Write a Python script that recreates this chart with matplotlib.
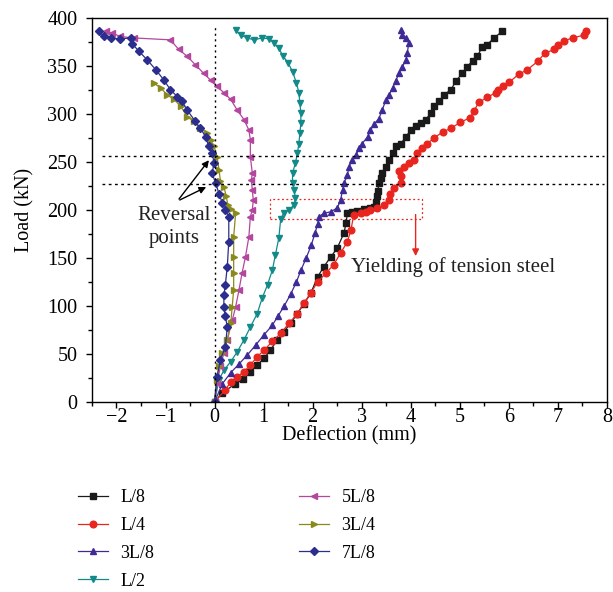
import matplotlib
matplotlib.use("Agg")
import matplotlib.pyplot as plt
from matplotlib.patches import Rectangle

plt.rcParams["font.family"] = ["Liberation Serif", "DejaVu Serif"]

# load-deflection data (deflection mm, load kN)
l8_x = [0, 0.15, 0.42, 0.59, 0.73, 0.87, 1.01, 1.14, 1.28, 1.41, 1.55, 1.69, 1.82, 1.96, 2.10, 2.23, 2.37, 2.50,
        2.64, 2.68, 2.71, 2.80, 2.91, 3.05, 3.18, 3.25, 3.30, 3.32, 3.33, 3.35, 3.39, 3.42, 3.49, 3.56, 3.63, 3.69,
        3.80, 3.90, 4.00, 4.10, 4.20, 4.31, 4.41, 4.48, 4.58, 4.68, 4.82, 4.92, 5.05, 5.15, 5.26, 5.36, 5.46, 5.56,
        5.70, 5.87]
l8_y = [0, 9, 18.8, 23.6, 31.6, 38.5, 45.5, 54, 64.6, 73, 82, 92, 102, 113, 130, 141, 151, 160,
        176, 186, 196.5, 198, 199, 201, 202, 203, 208, 214, 220, 228, 233, 238, 245, 252, 259, 266,
        269, 276, 283, 287, 290, 294, 301, 308, 313, 320, 325, 334, 342, 349, 355, 360, 370, 372,
        379, 386]

l4_x = [0, 0.22, 0.33, 0.46, 0.60, 0.73, 0.87, 1.01, 1.18, 1.35, 1.52, 1.69, 1.82, 1.96, 2.10, 2.27, 2.43, 2.57,
        2.71, 2.78, 2.84, 2.98, 3.08, 3.18, 3.32, 3.46, 3.56, 3.58, 3.66, 3.80, 3.80, 3.76, 3.86, 3.97, 4.07, 4.13,
        4.24, 4.34, 4.48, 4.65, 4.82, 5.01, 5.21, 5.29, 5.39, 5.56, 5.73, 5.77, 5.89, 6.01, 6.20, 6.38, 6.60, 6.73,
        6.93, 7.00, 7.13, 7.30, 7.54, 7.57]
l4_y = [0, 12.5, 21, 26, 31.6, 38.5, 47, 54, 63, 71.5, 82, 92, 103, 113, 125, 134, 143, 155,
        167, 179, 195, 196.5, 198, 200, 202, 205, 210, 217, 222.6, 228, 235, 240, 245, 249, 252, 259,
        264, 269, 275, 281, 285, 291, 296, 303, 312, 317, 322, 325, 329, 333, 341, 346, 355, 363,
        367, 372, 376, 379, 382, 386]

l38_x = [0, 0.16, 0.33, 0.50, 0.67, 0.84, 1.01, 1.18, 1.30, 1.42, 1.55, 1.67, 1.76, 1.87, 1.97, 2.05, 2.10, 2.13,
         2.23, 2.37, 2.50, 2.57, 2.61, 2.64, 2.71, 2.74, 2.81, 2.88, 2.95, 3.01, 3.12, 3.18, 3.25, 3.35, 3.42, 3.49,
         3.56, 3.63, 3.69, 3.76, 3.83, 3.90, 3.93, 3.96, 3.90, 3.83, 3.80]
l38_y = [0, 19, 30.5, 39.6, 49, 59.4, 70, 80, 90, 100, 112, 125, 137, 150, 163, 176, 185, 193,
         196.5, 198, 202, 210, 221, 228, 236, 245, 252, 257, 264, 269, 276, 283, 289, 295, 304, 314,
         320, 327, 334, 342, 349, 356, 363, 374, 379, 382, 387]

l2_x = [0, 0.09, 0.19, 0.33, 0.46, 0.60, 0.73, 0.87, 0.97, 1.08, 1.18, 1.24, 1.31, 1.35, 1.41, 1.52, 1.62, 1.65,
        1.62, 1.59, 1.59, 1.65, 1.69, 1.72, 1.74, 1.76, 1.76, 1.74, 1.72, 1.67, 1.59, 1.50, 1.40, 1.31, 1.21, 1.11,
        0.97, 0.80, 0.67, 0.53, 0.43]
l2_y = [0, 23, 33, 42, 52, 64.6, 78, 92, 108, 122, 137.5, 153, 170.5, 191, 196.5, 200, 205, 212,
        221, 228, 238, 249, 259, 269, 280, 290, 301, 311, 322, 332, 344, 353, 360, 368, 374, 378,
        379, 377, 379, 382, 387]

l58_x = [0, 0.05, 0.12, 0.19, 0.26, 0.36, 0.43, 0.50, 0.56, 0.63, 0.70, 0.73, 0.77, 0.79, 0.77, 0.75, 0.77, 0.73,
         0.73, 0.70, 0.60, 0.46, 0.33, 0.19, 0.05, -0.08, -0.22, -0.39, -0.56, -0.73, -0.90, -1.65, -1.92, -2.09,
         -2.22]
l58_y = [0, 19.5, 37, 51, 64.6, 85, 99, 117, 134, 151, 172, 193, 200, 210, 221, 231, 238, 255.5,
         273, 283, 294, 304, 315, 322, 328.5, 335, 342, 351, 360, 367, 377, 379, 380.5, 384,
         386]

l34_x = [0, 0.04, 0.09, 0.16, 0.26, 0.33, 0.36, 0.39, 0.39, 0.39, 0.39, 0.43, 0.33, 0.27, 0.24, 0.19, 0.12, 0.09,
         0.05, -0.01, -0.08, -0.15, -0.29, -0.42, -0.56, -0.69, -0.83, -0.97, -1.10, -1.24]
l34_y = [0, 23, 37, 51, 64.6, 82, 99, 117, 134, 151, 172, 196.5, 201, 205, 214, 224, 230, 242,
         255.5, 266, 273, 280, 285, 292, 297, 308, 315, 320, 327, 332]

l78_x = [0, 0.05, 0.12, 0.22, 0.26, 0.22, 0.19, 0.19, 0.22, 0.26, 0.29, 0.29, 0.22, 0.16, 0.09, 0.02, -0.05, -0.01,
         -0.05, -0.12, -0.18, -0.29, -0.39, -0.56, -0.66, -0.76, -0.90, -1.03, -1.20, -1.37, -1.54, -1.68, -1.71,
         -1.92, -2.12, -2.26, -2.36]
l78_y = [0, 26, 44, 57.6, 78, 89, 99, 111, 122, 141, 167, 193, 200, 207, 217, 228, 238, 249,
         259, 266, 276, 285, 292, 304, 313, 318, 325, 335, 346, 356, 365, 373, 379,
         378, 379, 381, 386]

series = [
    ("L/8", l8_x, l8_y, "#1a1a1a", "s"),
    ("L/4", l4_x, l4_y, "#e8261f", "o"),
    ("3L/8", l38_x, l38_y, "#402a96", "^"),
    ("L/2", l2_x, l2_y, "#138a8a", "v"),
    ("5L/8", l58_x, l58_y, "#b3479e", "<"),
    ("3L/4", l34_x, l34_y, "#8a8a1c", ">"),
    ("7L/8", l78_x, l78_y, "#2c2e8e", "D"),
]

FS = 14.5

fig = plt.figure(figsize=(6.13, 5.92), dpi=100)
ax = fig.add_axes([0.150, 0.321, 0.840, 0.649])

handles = []
for name, xs, ys, col, mk in series:
    ms = 3.8 if mk == "D" else 4.8
    h, = ax.plot(xs, ys, color=col, marker=mk, markersize=ms, linewidth=0.9, label=name)
    handles.append(h)

# gestippelde hulplijnen
ax.plot([0, 0], [0, 390], color="black", linestyle=(0, (1.5, 2.5)), linewidth=1)
ax.plot([-2.3, 7.95], [256, 256], color="black", linestyle=(0, (2, 2.5)), linewidth=1)
ax.plot([-2.3, 7.95], [227, 227], color="black", linestyle=(0, (2, 2.5)), linewidth=1)

# vloeien trekwapening: kader + pijl
ax.add_patch(Rectangle((1.14, 190), 3.1, 21, fill=False, edgecolor="#e8261f",
                       linestyle=(0, (1.5, 2)), linewidth=0.9))
ax.annotate("", xy=(4.1, 149), xytext=(4.1, 198),
            arrowprops=dict(arrowstyle="-|>", color="#e8261f", lw=1, mutation_scale=10))
ax.text(2.78, 140, "Yielding of tension steel", fontsize=FS + 0.5, va="center", ha="left", color="#222222")

# omkeerpunten
ax.text(-0.83, 182, "Reversal\npoints", fontsize=FS + 0.5, ha="center", va="center", linespacing=1.25,
        color="#222222")
for tip in [(-0.08, 254), (-0.12, 225)]:
    ax.annotate("", xy=tip, xytext=(-0.76, 209),
                arrowprops=dict(arrowstyle="-|>", color="black", lw=1, mutation_scale=10))

ax.set_xlim(-2.5, 8)
ax.set_ylim(0, 400)
ax.set_xticks(range(-2, 9))
ax.set_xticklabels(["\u22122", "\u22121", "0", "1", "2", "3", "4", "5", "6", "7", "8"])
ax.set_xticks([x / 2 for x in range(-5, 17)], minor=True)
ax.set_yticks(range(0, 401, 50))
ax.set_yticks(range(0, 401, 25), minor=True)
ax.tick_params(which="major", direction="out", length=4.5, width=1, labelsize=FS)
ax.tick_params(which="minor", direction="out", length=3, width=1)
ax.tick_params(axis="x", which="major", pad=0)
ax.tick_params(axis="y", which="major", pad=6)
for s in ax.spines.values():
    s.set_linewidth(1)
ax.set_xlabel("Deflection (mm)", fontsize=FS, labelpad=-1)
ax.set_ylabel("Load (kN)", fontsize=FS, labelpad=9)

leg_kw = dict(frameon=False, fontsize=13, handlelength=1.65, handletextpad=0.7, labelspacing=0.6,
              borderaxespad=0, borderpad=0)
fig.legend(handles=handles[:4], loc="upper left", bbox_to_anchor=(78 / 613, 1 - 489 / 592), **leg_kw)
fig.legend(handles=handles[4:], loc="upper left", bbox_to_anchor=(299 / 613, 1 - 489 / 592), **leg_kw)

fig.savefig("out.png", dpi=100)
